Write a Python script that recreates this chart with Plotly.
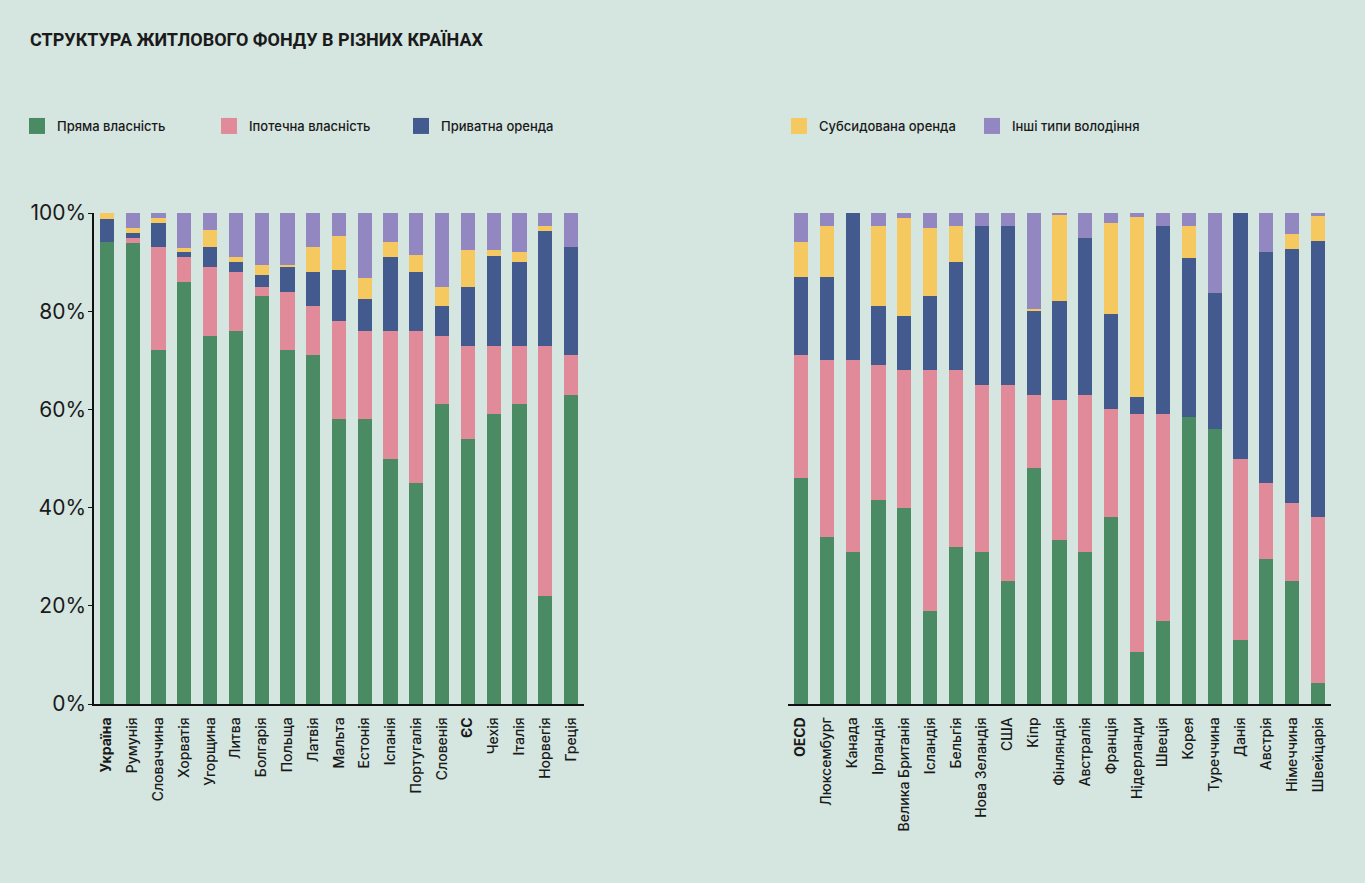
import plotly.graph_objects as go

# ---------------- data ----------------
series_names = ["Пряма власність", "Іпотечна власність", "Приватна оренда",
                "Субсидована оренда", "Інші типи володіння"]
series_colors = ["#4a8b63", "#e08a9a", "#435a8e", "#f6c960", "#9387c1"]

left_countries = ["<b>Україна</b>", "Румунія", "Словаччина", "Хорватія", "Угорщина", "Литва",
                  "Болгарія", "Польща", "Латвія", "Мальта", "Естонія", "Іспанія",
                  "Португалія", "Словенія", "<b>ЄС</b>", "Чехія", "Італія", "Норвегія", "Греція"]
left_own = [94, 93.8, 72, 86, 75, 76, 83, 72, 71, 58, 58, 50, 45, 61, 54, 59, 61, 22, 63]
left_mort = [0, 1.2, 21, 5, 14, 12, 2, 12, 10, 20, 18, 26, 31, 14, 19, 14, 12, 51, 8]
left_priv = [4.8, 1.0, 5, 1, 4, 2, 2.4, 5, 7, 10.4, 6.4, 15, 12, 6, 12, 18.3, 17, 23.3, 22]
left_subs = [1.2, 0.9, 1, 0.8, 3.6, 1, 2, 0.5, 5, 7, 4.4, 3, 3.5, 4, 7.5, 1.2, 2, 1.1, 0]
left_other = [0, 3.1, 1, 7.2, 3.4, 9, 10.6, 10.5, 7, 4.6, 13.2, 6, 8.5, 15, 7.5, 7.5, 8, 2.6, 7]

right_countries = ["<b>OECD</b>", "Люксембург", "Канада", "Ірландія", "Велика Британія", "Ісландія",
                   "Бельгія", "Нова Зеландія", "США", "Кіпр", "Фінляндія", "Австралія",
                   "Франція", "Нідерланди", "Швеція", "Корея", "Туреччина", "Данія",
                   "Австрія", "Німеччина", "Швейцарія"]
right_own = [46, 34, 31, 41.5, 40, 19, 32, 31, 25, 48, 33.5, 31, 38, 10.6, 17, 58.5, 56, 13, 29.5, 25, 4.2]
right_mort = [25, 36, 39, 27.5, 28, 49, 36, 34, 40, 15, 28.5, 32, 22, 48.4, 42, 0, 0, 37, 15.5, 16, 33.8]
right_priv = [16, 17, 30, 12, 11, 15, 22, 32.4, 32.4, 17, 20, 32, 19.4, 3.5, 38.4, 32.4, 27.8, 50, 47, 51.7, 56.3]
right_subs = [7, 10.4, 0, 16.4, 20, 14, 7.4, 0, 0, 0.5, 17.5, 0, 18.5, 36.7, 0, 6.5, 0, 0, 0, 3.1, 5.1]
right_other = [6, 2.6, 0, 2.6, 1, 3, 2.6, 2.6, 2.6, 19.5, 0.5, 5, 2.1, 0.8, 2.6, 2.6, 16.2, 0, 8, 4.2, 0.6]

y_tick_vals = [0, 20, 40, 60, 80, 100]
y_tick_text = ["0%", "20%", "40%", "60%", "80%", "100%"]

title_text = "СТРУКТУРА ЖИТЛОВОГО ФОНДУ В РІЗНИХ КРАЇНАХ"

# ---------------- figure ----------------
W, H = 1365, 883
BG = "#d5e5e0"
TXT = "#1a1a1a"

fig = go.Figure()

left_series = [left_own, left_mort, left_priv, left_subs, left_other]
right_series = [right_own, right_mort, right_priv, right_subs, right_other]

for name, color, vals in zip(series_names, series_colors, left_series):
    fig.add_trace(go.Bar(x=left_countries, y=vals, name=name, marker_color=color,
                         marker_line_width=0, xaxis="x", yaxis="y",
                         showlegend=False, legendgroup=name))
for name, color, vals in zip(series_names, series_colors, right_series):
    fig.add_trace(go.Bar(x=right_countries, y=vals, name=name, marker_color=color,
                         marker_line_width=0, xaxis="x2", yaxis="y2",
                         showlegend=False, legendgroup=name))

# legend entries
for i, (name, color) in enumerate(zip(series_names, series_colors)):
    fig.add_trace(go.Scatter(x=[None], y=[None], mode="markers", name=name,
                             marker=dict(symbol="square", size=16, color=color),
                             legendgroup=name, showlegend=True,
                             legend="legend" if i < 3 else "legend2"))

def px_x(p):
    return p / W

def px_y(p):
    return 1 - p / H

ydom = [px_y(704), px_y(213)]

common_x = dict(type="category", showline=True, linecolor="#111111", linewidth=1.5,
                ticks="", tickangle=-90, showgrid=False, zeroline=False,
                tickfont=dict(family="Inter", size=14, color=TXT, weight=500),
                ticklabelstandoff=6, fixedrange=True)

legend_font = dict(family="Inter", size=13, color=TXT, weight=500)

fig.update_layout(
    width=W, height=H,
    paper_bgcolor=BG, plot_bgcolor=BG,
    margin=dict(l=0, r=0, t=0, b=0, autoexpand=False),
    barmode="stack", bargap=0.45,
    title=dict(text=title_text, x=px_x(30), xanchor="left", y=px_y(40), yanchor="middle",
               font=dict(family="Roboto", size=18, color=TXT, weight=700)),
    xaxis=dict(domain=[px_x(94), px_x(584)], anchor="y", **common_x),
    xaxis2=dict(domain=[px_x(788), px_x(1331)], anchor="y2", **common_x),
    yaxis=dict(domain=ydom, range=[0, 100], anchor="x", showline=True, linecolor="#111111",
               linewidth=1.5, ticks="outside", ticklen=4, tickwidth=1.2, tickcolor="#111111",
               tickvals=y_tick_vals, ticktext=y_tick_text, showgrid=False, zeroline=False,
               ticklabelstandoff=-2,
               tickfont=dict(family="Inter", size=21, color=TXT, weight=400), fixedrange=True),
    yaxis2=dict(domain=ydom, range=[0, 100], anchor="x2", showline=False, showticklabels=False,
                ticks="", showgrid=False, zeroline=False, fixedrange=True),
    legend=dict(orientation="h", x=px_x(17), xanchor="left", y=px_y(126), yanchor="middle",
                font=legend_font, bgcolor="rgba(0,0,0,0)", entrywidth=147,
                entrywidthmode="pixels", itemclick=False, itemdoubleclick=False),
    legend2=dict(orientation="h", x=px_x(779), xanchor="left", y=px_y(126), yanchor="middle",
                 font=legend_font, bgcolor="rgba(0,0,0,0)", entrywidth=148,
                 entrywidthmode="pixels", itemclick=False, itemdoubleclick=False),
    hovermode=False,
)

fig.write_html("out.html",
               config={"displayModeBar": False},
               post_script="document.body.style.margin='0';"
                           "document.body.style.background='" + BG + "';")
